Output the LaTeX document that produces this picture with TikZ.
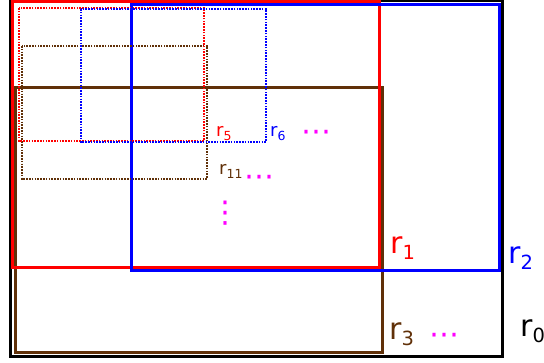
\documentclass[tikz,border=0pt]{standalone}
\usepackage{fontspec}
\setmainfont{DejaVu Sans}
\definecolor{brownc}{RGB}{96,48,8}
\definecolor{magc}{RGB}{255,0,255}
\newcommand\biglab[2]{\fontsize{30}{30}\selectfont #1\raisebox{-6pt}{\fontsize{19.5}{19.5}\selectfont #2}}
\newcommand\smlab[2]{\fontsize{18}{18}\selectfont #1\raisebox{-4pt}{\fontsize{12.5}{12.5}\selectfont #2}}
\tikzset{
  bigbox/.style={line width=3pt},
  dotbox/.style={line width=1.9pt, dash pattern=on 1.6pt off 1.2pt},
  lab/.style={anchor=base west, inner sep=0pt},
  dots/.style={text=magc, inner sep=0pt, font=\fontsize{30}{30}\selectfont},
}
\begin{document}
\begin{tikzpicture}[x=1pt,y=-1pt]
\useasboundingbox (0,0) rectangle (544,363);
% solid regions
\draw[bigbox, black] (10,1) rectangle (502,357);
\draw[bigbox, brownc] (15,88) rectangle (382,353);
\draw[bigbox, red] (12,2) rectangle (379,268);
\draw[bigbox, blue] (131,5) rectangle (499,271);
% dotted regions
\draw[dotbox, brownc] (22,46) rectangle (207,179);
\draw[dotbox, red] (19,8) rectangle (204,141);
\draw[dotbox, blue] (81,9) rectangle (266,142);
% labels
\node[lab, text=red] (l1) at (390,254) {\biglab{r}{1}};
\node[lab, text=blue] (l2) at (508,264) {\biglab{r}{2}};
\node[lab, text=brownc] (l3) at (389,340) {\biglab{r}{3}};
\node[lab, text=black] (l0) at (520,337) {\biglab{r}{0}};
\node[lab, text=red] (l5) at (216,137) {\smlab{r}{5}};
\node[lab, text=blue] (l6) at (270,137) {\smlab{r}{6}};
\node[lab, text=brownc] (l11) at (219,175) {\smlab{r}{11}};
% dots
\node[dots] (d6) at (316,136) {⋯};
\node[dots] (d11) at (259,181) {⋯};
\node[dots] (dv) at (225,213) {⋮};
\node[dots] (d3) at (444,339) {⋯};
\end{tikzpicture}
\end{document}
